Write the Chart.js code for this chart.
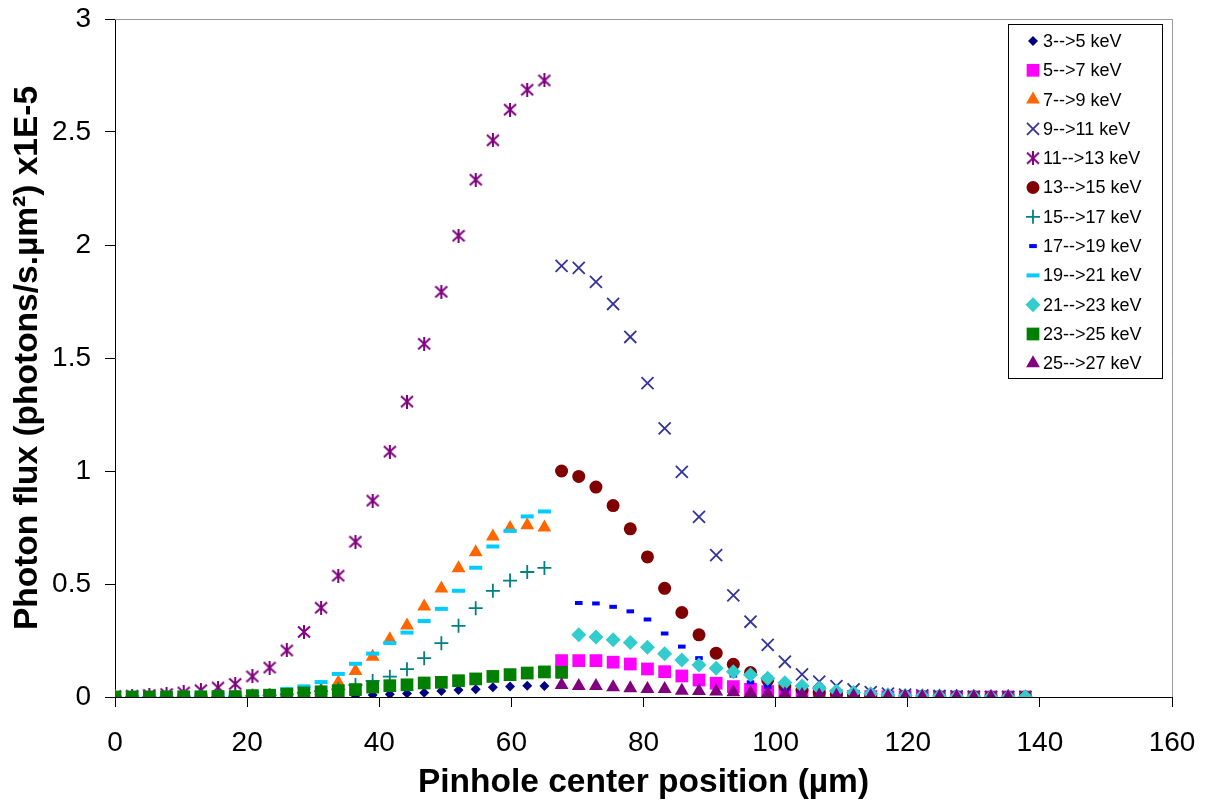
<!DOCTYPE html>
<html><head><meta charset="utf-8">
<script src="https://cdn.jsdelivr.net/npm/chart.js@4/dist/chart.umd.min.js"></script>
<style>html,body{margin:0;padding:0;background:#fff;}#wrap{width:1208px;height:802px;}</style>
</head><body><div id="wrap"><canvas id="c" width="1208" height="802"></canvas></div>
<script>
const seriesLabels = ['3-->5 keV','5-->7 keV','7-->9 keV','9-->11 keV','11-->13 keV','13-->15 keV','15-->17 keV','17-->19 keV','19-->21 keV','21-->23 keV','23-->25 keV','25-->27 keV'];
const xTickLabels = [0,20,40,60,80,100,120,140,160];
const yTickLabels = [0,0.5,1,1.5,2,2.5,3];

// pinhole positions (µm)
const xLeft = [0,2.6,5.2,7.8,10.4,13,15.6,18.2,20.8,23.4,26,28.6,31.2,33.8,36.4,39,41.6,44.2,46.8,49.4,52,54.6,57.2,59.8,62.4,65];
const xLeftLong = [0,2.6,5.2,7.8,10.4,13,15.6,18.2,20.8,23.4,26,28.6,31.2,33.8,36.4,39,41.6,44.2,46.8,49.4,52,54.6,57.2,59.8,62.4,65,67.6];
const xRightA = [67.6,70.2,72.8,75.4,78,80.6,83.2,85.8,88.4,91,93.6,96.2,98.8,101.4,104,106.6,109.2,111.8,114.4,117,119.6,122.2,124.8,127.4,130,132.6,135.2,137.8];
const xRightB = [70.2,72.8,75.4,78,80.6,83.2,85.8,88.4,91,93.6,96.2,98.8,101.4,104,106.6,109.2,111.8,114.4,117,119.6,122.2,124.8,127.4,130,132.6,135.2,137.8];
const xRightC = [67.6,70.2,72.8,75.4,78,80.6,83.2,85.8,88.4,91,93.6,96.2,98.8,101.4,104,106.6,109.2,111.8,114.4,117,119.6,122.2,124.8,127.4,130,132.6,135.2];

// photon flux values (x1E-5)
const flux3to5 = [0,0,0,0,0,0,0,0,0,0,0.001,0.002,0.003,0.004,0.006,0.009,0.012,0.016,0.019,0.027,0.031,0.034,0.043,0.046,0.05,0.049];
const flux5to7 = [0.161,0.161,0.161,0.154,0.146,0.124,0.112,0.093,0.075,0.061,0.046,0.034,0.024,0.016,0.01,0.007,0.005,0.003,0.002,0.001,0.001,0.001,0,0,0,0,0,0];
const flux7to9 = [0,0,0,0,0,0,0.001,0.001,0.002,0.004,0.007,0.013,0.03,0.064,0.115,0.178,0.256,0.316,0.4,0.48,0.57,0.64,0.71,0.748,0.76,0.75];
const flux9to11 = [1.908,1.899,1.837,1.739,1.593,1.389,1.189,0.996,0.797,0.628,0.45,0.333,0.231,0.156,0.1,0.068,0.048,0.034,0.022,0.015,0.01,0.007,0.005,0.003,0.002,0.001,0.001,0.001];
const flux11to13 = [0.004,0.006,0.009,0.013,0.02,0.03,0.042,0.058,0.091,0.13,0.206,0.288,0.395,0.537,0.687,0.869,1.086,1.307,1.563,1.793,2.041,2.289,2.463,2.599,2.687,2.728];
const flux13to15 = [1.0,0.976,0.929,0.847,0.744,0.62,0.481,0.374,0.275,0.194,0.145,0.108,0.075,0.05,0.032,0.02,0.013,0.009,0.006,0.004,0.003,0.002,0.001,0.001,0.001,0,0,0];
const flux15to17 = [0,0,0,0,0.001,0.001,0.002,0.003,0.005,0.008,0.012,0.018,0.026,0.034,0.053,0.071,0.09,0.123,0.172,0.238,0.315,0.393,0.47,0.515,0.553,0.571];
const flux17to19 = [0.416,0.414,0.399,0.379,0.343,0.281,0.223,0.172,0.13,0.095,0.065,0.045,0.03,0.02,0.013,0.008,0.005,0.003,0.002,0.001,0.001,0,0,0,0,0,0];
const flux19to21 = [0.001,0.002,0.003,0.004,0.006,0.008,0.01,0.014,0.019,0.025,0.035,0.047,0.066,0.102,0.147,0.192,0.239,0.285,0.336,0.39,0.47,0.572,0.666,0.735,0.799,0.821];
const flux21to23 = [0.275,0.265,0.253,0.241,0.22,0.191,0.164,0.142,0.127,0.112,0.098,0.083,0.063,0.049,0.039,0.027,0.02,0.014,0.01,0.007,0.005,0.004,0.003,0.002,0.001,0.001,0.001];
const flux23to25 = [0,0,0,0,0.001,0.001,0.002,0.002,0.006,0.008,0.012,0.018,0.023,0.028,0.033,0.044,0.05,0.054,0.062,0.065,0.072,0.08,0.091,0.099,0.106,0.111,0.109];
const flux25to27 = [0.053,0.049,0.049,0.043,0.039,0.035,0.035,0.028,0.027,0.024,0.021,0.018,0.015,0.012,0.009,0.007,0.005,0.004,0.003,0.002,0.002,0.001,0.001,0.001,0,0,0];

// asterisk marker (X with vertical bar)
function makeStar(color){
  const c = document.createElement('canvas'); c.width = 14; c.height = 14;
  const g = c.getContext('2d'); g.strokeStyle = color; g.lineWidth = 2; g.lineCap = 'butt';
  g.beginPath();
  g.moveTo(1,1.5); g.lineTo(13,12.5); g.moveTo(13,1.5); g.lineTo(1,12.5);
  g.moveTo(7,0); g.lineTo(7,14);
  g.stroke();
  return c;
}
const starImg = makeStar('#800080');

function pts(xs, ys){ return xs.map((x,i)=>({x:x, y:ys[i]})); }

const styles = [
  {xs:xLeft, ys:flux3to5, pointStyle:'rectRot', color:'#000080', r:5, bw:0},
  {xs:xRightA, ys:flux5to7, pointStyle:'rect', color:'#FF00FF', r:9, bw:0},
  {xs:xLeft, ys:flux7to9, pointStyle:'triangle', color:'#FF6600', r:8, bw:0},
  {xs:xRightA, ys:flux9to11, pointStyle:'crossRot', color:'#333399', r:8.5, bw:1.8},
  {xs:xLeft, ys:flux11to13, pointStyle:starImg, color:'#800080', r:7, bw:0},
  {xs:xRightA, ys:flux13to15, pointStyle:'circle', color:'#800000', r:6.5, bw:0},
  {xs:xLeft, ys:flux15to17, pointStyle:'cross', color:'#008080', r:7, bw:1.8},
  {xs:xRightB, ys:flux17to19, pointStyle:'line', color:'#0000FF', r:3.8, bw:4},
  {xs:xLeft, ys:flux19to21, pointStyle:'line', color:'#00CCFF', r:6.5, bw:4},
  {xs:xRightB, ys:flux21to23, pointStyle:'rectRot', color:'#33CCCC', r:7.5, bw:0},
  {xs:xLeftLong, ys:flux23to25, pointStyle:'rect', color:'#008000', r:9, bw:0},
  {xs:xRightC, ys:flux25to27, pointStyle:'triangle', color:'#800080', r:8, bw:0}
];

const datasets = styles.map((s,i)=>({
  label: seriesLabels[i],
  data: pts(s.xs, s.ys),
  showLine:false,
  pointStyle: s.pointStyle,
  pointRadius: s.r,
  pointHoverRadius: s.r,
  pointBackgroundColor: s.color,
  pointBorderColor: s.color,
  pointBorderWidth: s.bw,
  backgroundColor: s.color,
  borderColor: s.color,
  order: styles.length - i
}));

const FONT = "'Liberation Sans', Arial, sans-serif";

const frameAndLegend = {
  id:'frameAndLegend',
  beforeDatasetsDraw(chart){
    const {ctx, chartArea:a} = chart;
    ctx.save();
    ctx.strokeStyle = '#9a9a9a'; ctx.lineWidth = 1;
    ctx.beginPath();
    ctx.moveTo(a.left, a.top + 0.5); ctx.lineTo(a.right + 0.5, a.top + 0.5); ctx.lineTo(a.right + 0.5, a.bottom);
    ctx.stroke();
    ctx.restore();
  },
  afterDraw(chart){
    const ctx = chart.ctx;
    const bx = 1008.5, by = 24.5, bw = 154, bh = 354;
    ctx.save();
    ctx.fillStyle = '#fff'; ctx.fillRect(bx, by, bw, bh);
    ctx.strokeStyle = '#000'; ctx.lineWidth = 1; ctx.strokeRect(bx, by, bw, bh);
    ctx.font = '18px ' + FONT; ctx.fillStyle = '#000'; ctx.textBaseline = 'middle'; ctx.textAlign = 'left';
    chart.data.datasets.forEach((ds, i) => {
      const y = 41 + i * 29.3;
      const s = styles[i];
      ctx.save();
      ctx.fillStyle = s.color; ctx.strokeStyle = s.color; ctx.lineWidth = s.bw;
      Chart.helpers.drawPoint(ctx, {pointStyle: s.pointStyle, radius: s.r, rotation: 0, borderWidth: s.bw}, 1033, y);
      ctx.restore();
      ctx.fillText(ds.label, 1043, y + 1);
    });
    ctx.restore();
  }
};

function noPad(s){ s.paddingTop = 0; s.paddingBottom = 0; s.paddingLeft = 0; s.paddingRight = 0; }

new Chart(document.getElementById('c'), {
  type:'scatter',
  data:{datasets},
  options:{
    responsive:false, animation:false, devicePixelRatio:1,
    layout:{padding:{top:19, right:36, left:0, bottom:0}},
    plugins:{legend:{display:false}, tooltip:{enabled:false}},
    scales:{
      x:{type:'linear', min:0, max:160,
        afterBuildTicks: s => { s.ticks = xTickLabels.map(v=>({value:v})); },
        ticks:{font:{family:FONT, size:28}, color:'#000', padding:19, maxRotation:0, callback: v => String(v)},
        grid:{drawOnChartArea:false, tickLength:10, tickColor:'#000', tickWidth:1},
        border:{color:'#000', width:1},
        title:{display:true, text:'Pinhole center position (µm)', color:'#000', font:{family:FONT, size:33.5, weight:'bold', lineHeight:1}, padding:{top:0, bottom:2}},
        afterFit: s => { s.height = 105; noPad(s); }
      },
      y:{type:'linear', min:0, max:3,
        afterBuildTicks: s => { s.ticks = yTickLabels.map(v=>({value:v})); },
        ticks:{font:{family:FONT, size:28}, color:'#000', padding:14, callback: v => String(v)},
        grid:{drawOnChartArea:false, tickLength:10, tickColor:'#000', tickWidth:1},
        border:{color:'#000', width:1},
        title:{display:true, text:'Photon flux (photons/s.µm²) x1E-5', color:'#000', font:{family:FONT, size:33.5, weight:'bold'}, padding:{top:8, bottom:0}},
        afterFit: s => { s.width = 115; noPad(s); }
      }
    }
  },
  plugins:[frameAndLegend]
});
</script></body></html>
